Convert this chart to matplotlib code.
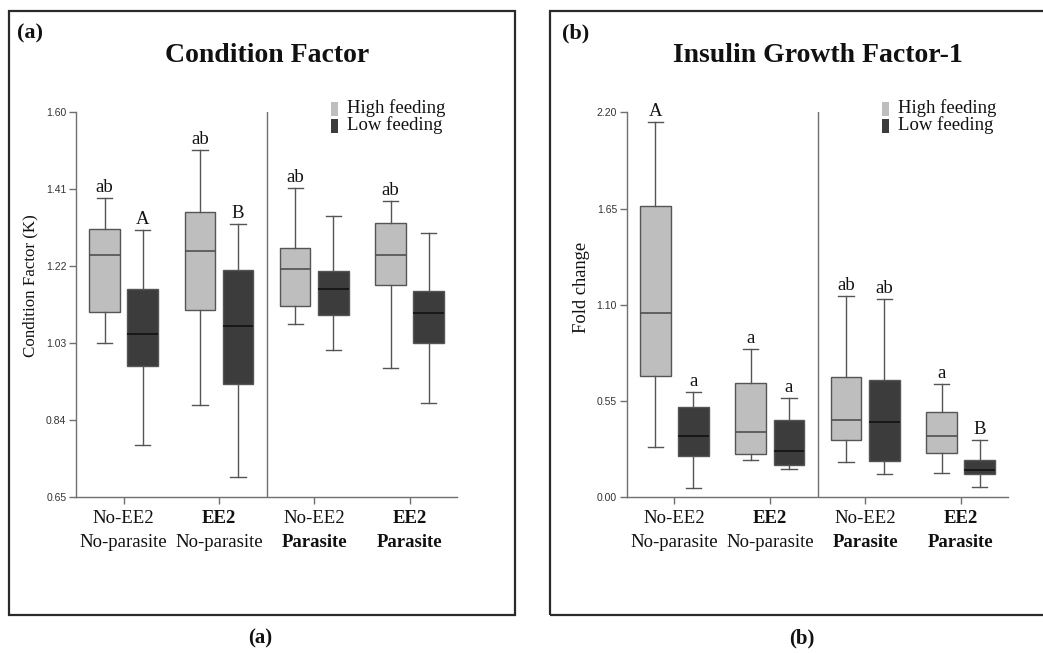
import matplotlib
matplotlib.use("Agg")
import matplotlib.pyplot as plt
from matplotlib.patches import Rectangle

# ---------------- data ----------------
group_line1 = ["No-EE2", "EE2", "No-EE2", "EE2"]
group_line1_bold = [False, True, False, True]
group_line2 = ["No-parasite", "No-parasite", "Parasite", "Parasite"]
group_line2_bold = [False, False, True, True]
series_labels = ["High feeding", "Low feeding"]

# Condition factor (K)
cf_high_min = [1.030, 0.878, 1.077, 0.968]
cf_high_q1 = [1.107, 1.112, 1.123, 1.175]
cf_high_med = [1.247, 1.258, 1.213, 1.247]
cf_high_q3 = [1.312, 1.354, 1.264, 1.328]
cf_high_max = [1.388, 1.508, 1.412, 1.382]
cf_low_min = [0.779, 0.699, 1.014, 0.882]
cf_low_q1 = [0.974, 0.929, 1.100, 1.030]
cf_low_med = [1.053, 1.073, 1.163, 1.104]
cf_low_q3 = [1.165, 1.211, 1.208, 1.159]
cf_low_max = [1.309, 1.324, 1.343, 1.301]
cf_high_letters = ["ab", "ab", "ab", "ab"]
cf_low_letters = ["A", "B", "", ""]
cf_yticks = [0.65, 0.84, 1.03, 1.22, 1.41, 1.60]

# Insulin growth factor-1 (fold change)
igf_high_min = [0.287, 0.215, 0.202, 0.137]
igf_high_q1 = [0.695, 0.249, 0.326, 0.255]
igf_high_med = [1.053, 0.373, 0.442, 0.349]
igf_high_q3 = [1.665, 0.655, 0.686, 0.487]
igf_high_max = [2.145, 0.846, 1.150, 0.647]
igf_low_min = [0.051, 0.162, 0.131, 0.057]
igf_low_q1 = [0.238, 0.185, 0.209, 0.135]
igf_low_med = [0.349, 0.266, 0.430, 0.154]
igf_low_q3 = [0.514, 0.440, 0.669, 0.215]
igf_low_max = [0.600, 0.567, 1.135, 0.329]
igf_high_letters = ["A", "a", "ab", "a"]
igf_low_letters = ["a", "a", "ab", "B"]
igf_yticks = [0.00, 0.55, 1.10, 1.65, 2.20]

# ---------------- style ----------------
SERIF = ["Liberation Serif", "DejaVu Serif"]
SANS = ["Liberation Sans", "DejaVu Sans"]
LIGHT = "#bebebe"
DARK = "#3c3c3c"
EDGE = "#555555"
AXC = "#707070"
PX = 0.72  # points per pixel at dpi 100

W, H = 1043, 653
fig = plt.figure(figsize=(W / 100, H / 100), dpi=100)
fig.patch.set_facecolor("white")


def stats(mins, q1s, meds, q3s, maxs):
    return [dict(whislo=a, q1=b, med=c, q3=d, whishi=e)
            for a, b, c, d, e in zip(mins, q1s, meds, q3s, maxs)]


def draw_panel(ax, high, low, hl, ll, yticks, title, ylab, ylab_size, ylab_xy):
    pos = [1, 2, 3, 4]
    off, bw = 0.2, 0.32
    for st, sign, fc, medc in [(high, -1, LIGHT, "#505050"), (low, 1, DARK, "#111111")]:
        ax.bxp(st, positions=[p + sign * off for p in pos], widths=bw,
               showfliers=False, patch_artist=True,
               boxprops=dict(facecolor=fc, edgecolor=EDGE, linewidth=1.0),
               medianprops=dict(color=medc, linewidth=1.2),
               whiskerprops=dict(color=EDGE, linewidth=1.0),
               capprops=dict(color=EDGE, linewidth=1.0),
               manage_ticks=False)
    # significance letters
    for st, sign, letters in [(high, -1, hl), (low, 1, ll)]:
        for p, s, lt in zip(pos, st, letters):
            if lt:
                ax.annotate(lt, xy=(p + sign * off, s["whishi"]), xytext=(0, 1.5),
                            textcoords="offset points", ha="center", va="bottom",
                            fontsize=13.5, family=SERIF, color="#111111")
    ax.set_xlim(0.5, 4.5)
    ax.set_ylim(yticks[0], yticks[-1])
    ax.axvline(2.5, color=AXC, lw=1.0)
    for s in ["top", "right"]:
        ax.spines[s].set_visible(False)
    for s in ["left", "bottom"]:
        ax.spines[s].set_color(AXC)
        ax.spines[s].set_linewidth(1.0)
    ax.set_yticks(yticks)
    ax.set_yticklabels([f"{t:.2f}" for t in yticks], family=SANS, fontsize=7.5, color="#333333")
    ax.set_xticks(pos)
    ax.set_xticklabels([])
    ax.tick_params(axis="both", color=AXC, length=5, width=1.0, pad=2)
    # category labels (two lines, mixed weight)
    for p, t1, b1, t2, b2 in zip(pos, group_line1, group_line1_bold, group_line2, group_line2_bold):
        ax.annotate(t1, xy=(p, 0), xycoords=("data", "axes fraction"), xytext=(0, -21 * PX),
                    textcoords="offset points", ha="center", va="center", fontsize=13.5,
                    family=SERIF, fontweight="bold" if b1 else "normal", color="#111111")
        ax.annotate(t2, xy=(p, 0), xycoords=("data", "axes fraction"), xytext=(0, -45 * PX),
                    textcoords="offset points", ha="center", va="center", fontsize=13.5,
                    family=SERIF, fontweight="bold" if b2 else "normal", color="#111111")
    # title
    ax.annotate(title, xy=(0.5, 1), xycoords="axes fraction", xytext=(0, 57 * PX),
                textcoords="offset points", ha="center", va="center", fontsize=20,
                family=SERIF, fontweight="bold", color="#111111")
    # y label
    fig.text(ylab_xy[0] / W, 1 - ylab_xy[1] / H, ylab, rotation=90, ha="center", va="center",
             fontsize=ylab_size, family=SERIF, color="#111111")
    # legend
    sq_w, sq_h = 7 / 381.3, 14 / 385
    sx = 0.668
    for (y0, fc), lab, ty in zip([(0.991, LIGHT), (0.946, DARK)], series_labels, [1.011, 0.966]):
        ax.add_patch(Rectangle((sx, y0), sq_w, sq_h, transform=ax.transAxes,
                               facecolor=fc, edgecolor="none", clip_on=False))
        ax.text(sx + sq_w + 0.024, ty, lab, transform=ax.transAxes, ha="left", va="center",
                fontsize=13.5, family=SERIF, color="#111111")


ax_a = fig.add_axes([76 / W, 1 - 497.3 / H, 381.3 / W, 385 / H])
ax_b = fig.add_axes([626.7 / W, 1 - 497.3 / H, 381.6 / W, 385 / H])

draw_panel(ax_a,
           stats(cf_high_min, cf_high_q1, cf_high_med, cf_high_q3, cf_high_max),
           stats(cf_low_min, cf_low_q1, cf_low_med, cf_low_q3, cf_low_max),
           cf_high_letters, cf_low_letters, cf_yticks,
           "Condition Factor", "Condition Factor (K)", 12.2, (30, 286))
draw_panel(ax_b,
           stats(igf_high_min, igf_high_q1, igf_high_med, igf_high_q3, igf_high_max),
           stats(igf_low_min, igf_low_q1, igf_low_med, igf_low_q3, igf_low_max),
           igf_high_letters, igf_low_letters, igf_yticks,
           "Insulin Growth Factor-1", "Fold change", 13.3, (582, 287.5))

# panel frames
fig.add_artist(Rectangle((9 / W, 1 - 615 / H), (515 - 9) / W, (615 - 11) / H,
                         transform=fig.transFigure, fill=False, edgecolor="#2a2a2a", lw=1.6))
fig.add_artist(Rectangle((550 / W, 1 - 615 / H), (1060 - 550) / W, (615 - 11) / H,
                         transform=fig.transFigure, fill=False, edgecolor="#2a2a2a", lw=1.6,
                         clip_on=False))

# panel letters
fig.text(30.5 / W, 1 - 33 / H, "(a)", ha="center", va="center", fontsize=16,
         family=SERIF, fontweight="bold", color="#111111")
fig.text(576 / W, 1 - 33 / H, "(b)", ha="center", va="center", fontsize=16,
         family=SERIF, fontweight="bold", color="#111111")
fig.text(260 / W, 1 - 638 / H, "(a)", ha="center", va="center", fontsize=15,
         family=SERIF, fontweight="bold", color="#111111")
fig.text(802 / W, 1 - 638 / H, "(b)", ha="center", va="center", fontsize=15,
         family=SERIF, fontweight="bold", color="#111111")

fig.savefig("out.png", dpi=100, facecolor="white")
